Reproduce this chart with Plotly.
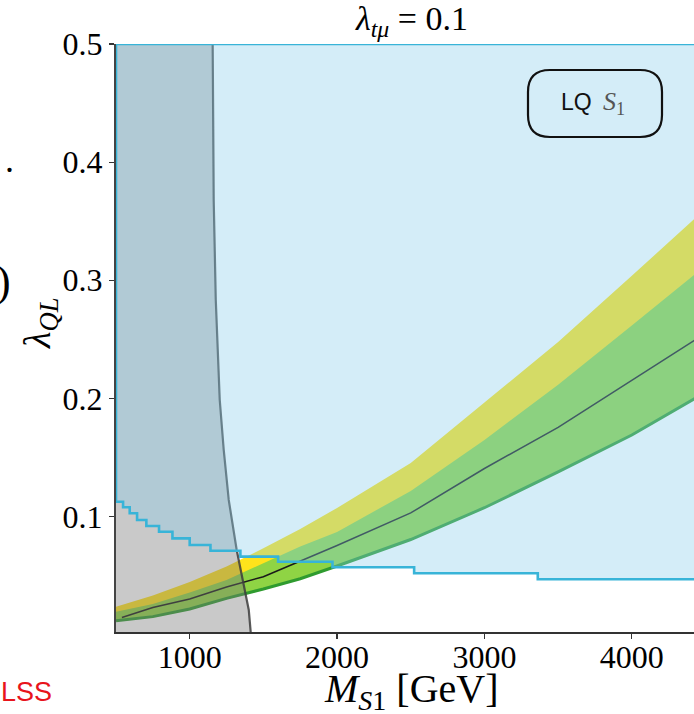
import plotly.graph_objects as go

# ---------------- data ----------------
band_x = [500, 750, 1000, 1250, 1500, 1750, 2000, 2500, 3000, 3500, 4000, 4430]
band2_upper = [0.0236, 0.0331, 0.0445, 0.0577, 0.0731, 0.0894, 0.1072, 0.1453, 0.1964, 0.2478, 0.3038, 0.3525]
band1_upper = [0.0194, 0.0259, 0.0356, 0.0462, 0.0604, 0.0746, 0.0869, 0.1216, 0.1648, 0.2116, 0.2616, 0.3053]
band1_lower = [0.0118, 0.0152, 0.0217, 0.0307, 0.0386, 0.0473, 0.0581, 0.0805, 0.1074, 0.1377, 0.1690, 0.2001]

central_x = [540, 750, 1000, 1250, 1500, 1750, 2000, 2500, 3000, 3500, 4000, 4430]
central_y = [0.0145, 0.0229, 0.0301, 0.0403, 0.0490, 0.0619, 0.0754, 0.1030, 0.1406, 0.1755, 0.2153, 0.2495]

# stepped exclusion boundary (blue region lies above it)
excl_x = [500, 548, 593, 643, 706, 792, 883, 1000, 1141, 1344, 1600, 1969, 2523, 3362, 4500]
excl_y = [0.1125, 0.1078, 0.1027, 0.0970, 0.0920, 0.0871, 0.0815, 0.0759, 0.0710, 0.0660, 0.0617, 0.0570, 0.0519, 0.0468, 0.0468]

# grey excluded region boundary (region lies left of it)
grey_x = [1414, 1401, 1360, 1319, 1265, 1231, 1204, 1177, 1163, 1156]
grey_y = [0.0022, 0.0208, 0.0462, 0.0716, 0.1140, 0.1563, 0.1986, 0.2835, 0.3680, 0.5000]

x_min, x_max = 500, 4422
y_min, y_max = 0.0022, 0.5
x_ticks = [1000, 2000, 3000, 4000]
x_tick_labels = ["1000", "2000", "3000", "4000"]
y_ticks = [0.1, 0.2, 0.3, 0.4, 0.5]
y_tick_labels = ["0.1", "0.2", "0.3", "0.4", "0.5"]

# ---------------- styling ----------------
W, H = 694, 714
ML, MR, MT, MB = 116, 0, 44, 82
PW, PH = W - ML - MR, H - MT - MB

YELLOW = "#ffe31c"
GREEN = "#8fd444"
DARKGREEN = "#2f9b2f"
BLUE_FILL = "rgba(135,206,235,0.36)"
CYAN = "#38b4d8"
GREY_FILL = "rgba(120,120,120,0.40)"
GREY_LINE = "rgba(60,60,60,0.85)"
SERIF = "Liberation Serif, Times New Roman, serif"
SANS = "Liberation Sans, Arial, sans-serif"


def px_to_paper(px, py):
    return (px - ML) / PW, (H - MB - py) / PH


fig = go.Figure()

# 2-sigma (yellow) band
fig.add_trace(go.Scatter(
    x=band_x + band_x[::-1], y=band2_upper + band1_lower[::-1],
    fill="toself", fillcolor=YELLOW, line=dict(width=0), mode="lines",
    hoverinfo="skip", showlegend=False))
# 1-sigma (green) band
fig.add_trace(go.Scatter(
    x=band_x + band_x[::-1], y=band1_upper + band1_lower[::-1],
    fill="toself", fillcolor=GREEN, line=dict(width=0), mode="lines",
    hoverinfo="skip", showlegend=False))
# dark green lower edge
fig.add_trace(go.Scatter(
    x=band_x, y=band1_lower, mode="lines",
    line=dict(color=DARKGREEN, width=3), hoverinfo="skip", showlegend=False))
# central value
fig.add_trace(go.Scatter(
    x=central_x, y=central_y, mode="lines",
    line=dict(color="#1a1a1a", width=1.5), hoverinfo="skip", showlegend=False))

# grey region
gx = [x_min] + grey_x + [x_min]
gy = [grey_y[0]] + grey_y + [grey_y[-1]]
fig.add_trace(go.Scatter(
    x=gx, y=gy, fill="toself", fillcolor=GREY_FILL, line=dict(width=0),
    mode="lines", hoverinfo="skip", showlegend=False))
fig.add_trace(go.Scatter(
    x=grey_x, y=grey_y, mode="lines", line=dict(color=GREY_LINE, width=2.2),
    hoverinfo="skip", showlegend=False))

# blue excluded region with stepped boundary
sx, sy = [], []
for i in range(len(excl_x) - 1):
    sx += [excl_x[i], excl_x[i + 1]]
    sy += [excl_y[i], excl_y[i]]
sx += [excl_x[-1], excl_x[-1], excl_x[0], excl_x[0]]
sy += [excl_y[-1], y_max, y_max, excl_y[0]]
fig.add_trace(go.Scatter(
    x=sx, y=sy, fill="toself", fillcolor=BLUE_FILL,
    line=dict(color=CYAN, width=2.6), mode="lines",
    hoverinfo="skip", showlegend=False))

# rounded box "LQ S1"
bx0, by0 = px_to_paper(528, 137)
bx1, by1 = px_to_paper(662, 70)
rx, ry = 22 / PW, 22 / PH
path = (f"M {bx0+rx},{by1} L {bx1-rx},{by1} Q {bx1},{by1} {bx1},{by1-ry} "
        f"L {bx1},{by0+ry} Q {bx1},{by0} {bx1-rx},{by0} "
        f"L {bx0+rx},{by0} Q {bx0},{by0} {bx0},{by0+ry} "
        f"L {bx0},{by1-ry} Q {bx0},{by1} {bx0+rx},{by1} Z")
fig.add_shape(type="path", path=path, xref="paper", yref="paper",
              line=dict(color="#111111", width=2.2), fillcolor="rgba(0,0,0,0)")

annotations = []
ax, ay = px_to_paper(576, 102)
annotations.append(dict(x=ax, y=ay, xref="paper", yref="paper", text="LQ",
                        showarrow=False, font=dict(family=SANS, size=23, color="#111111"),
                        xanchor="center", yanchor="middle"))
ax, ay = px_to_paper(614, 103)
annotations.append(dict(x=ax, y=ay, xref="paper", yref="paper", text="<i>S</i><sub>1</sub>",
                        showarrow=False, font=dict(family=SERIF, size=26, color="#555555"),
                        xanchor="center", yanchor="middle"))
# title
ax, ay = px_to_paper(411, 21)
annotations.append(dict(x=ax, y=ay, xref="paper", yref="paper",
                        text="<i>λ</i><sub><i>tμ</i></sub> = 0.1",
                        showarrow=False, font=dict(family=SERIF, size=34, color="black"),
                        xanchor="center", yanchor="middle"))
# x axis title
ax, ay = px_to_paper(411, 691)
annotations.append(dict(x=ax, y=ay, xref="paper", yref="paper",
                        text="<i>M</i><sub><i>S</i>1</sub> [GeV]",
                        showarrow=False, font=dict(family=SERIF, size=40, color="black"),
                        xanchor="center", yanchor="middle"))
# y axis title
ax, ay = px_to_paper(40, 324)
annotations.append(dict(x=ax, y=ay, xref="paper", yref="paper",
                        text="<i>λ</i><sub><i>QL</i></sub>", textangle=-90,
                        showarrow=False, font=dict(family=SERIF, size=38, color="black"),
                        xanchor="center", yanchor="middle"))
# cropped fragments at the left edge
ax, ay = px_to_paper(9, 160)
annotations.append(dict(x=ax, y=ay, xref="paper", yref="paper", text=".",
                        showarrow=False, font=dict(family=SERIF, size=36, color="black"),
                        xanchor="center", yanchor="middle"))
ax, ay = px_to_paper(3, 281)
annotations.append(dict(x=ax, y=ay, xref="paper", yref="paper", text=")",
                        showarrow=False, font=dict(family=SERIF, size=44, color="black"),
                        xanchor="center", yanchor="middle"))
ax, ay = px_to_paper(-1, 692)
annotations.append(dict(x=ax, y=ay, xref="paper", yref="paper", text="LSS",
                        showarrow=False, font=dict(family=SANS, size=27, color="#e8141c"),
                        xanchor="left", yanchor="middle"))

fig.update_layout(
    width=W, height=H,
    margin=dict(l=ML, r=MR, t=MT, b=MB, pad=0),
    paper_bgcolor="white", plot_bgcolor="white",
    showlegend=False,
    annotations=annotations,
    xaxis=dict(range=[x_min, x_max], tickvals=x_ticks, ticktext=x_tick_labels,
               ticks="outside", ticklen=5, tickwidth=1.2, tickcolor="#333333",
               showline=True, linecolor="#333333", linewidth=1.6,
               showgrid=False, zeroline=False, ticklabelstandoff=-9,
               tickfont=dict(family=SERIF, size=32, color="black")),
    yaxis=dict(range=[y_min, y_max], tickvals=y_ticks, ticktext=y_tick_labels,
               ticks="outside", ticklen=5, tickwidth=1.2, tickcolor="#333333",
               showline=True, linecolor="#444444", linewidth=2,
               showgrid=False, zeroline=False, layer="below traces",
               tickfont=dict(family=SERIF, size=32, color="black")),
)

fig.write_html("out.html",
               config={"displayModeBar": False, "staticPlot": True},
               post_script="document.body.style.margin='0';document.body.style.overflow='hidden';")
